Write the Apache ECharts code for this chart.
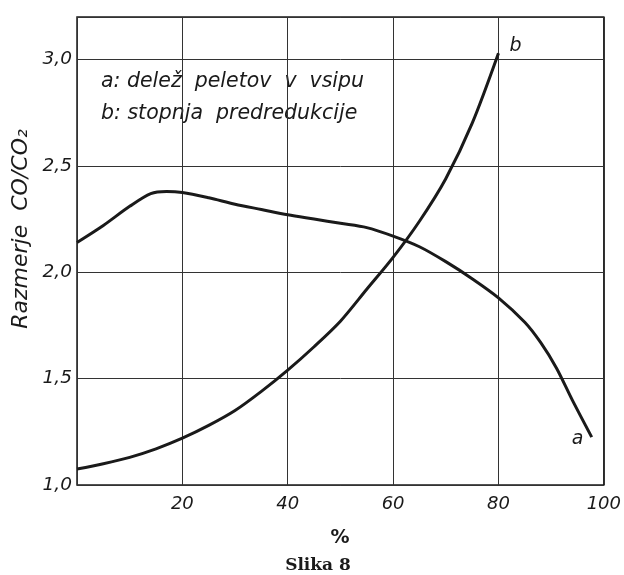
<!DOCTYPE html>
<html>
<head>
<meta charset="utf-8">
<script src="https://cdn.jsdelivr.net/npm/echarts@6/dist/echarts.min.js"></script>
<style>
  html, body { margin: 0; padding: 0; background: #fff; }
  #chart { width: 624px; height: 575px; }
</style>
</head>
<body>
<div id="chart"></div>
<script>
// Curve a: share of pellets in the burden (x %, CO/CO2 ratio)
const curveAX = [0, 5, 10, 14, 17, 20, 25, 30, 35, 40, 45, 50, 55, 60, 65, 70, 75, 80, 85, 88, 91, 94, 97.7];
const curveAY = [2.14, 2.22, 2.31, 2.37, 2.38, 2.375, 2.35, 2.32, 2.295, 2.27, 2.25, 2.23, 2.21, 2.17, 2.12, 2.05, 1.97, 1.88, 1.765, 1.67, 1.55, 1.40, 1.225];

// Curve b: degree of pre-reduction (x %, CO/CO2 ratio)
const curveBX = [0, 5, 10, 15, 20, 25, 30, 35, 40, 45, 50, 55, 60, 65, 70, 75, 80];
const curveBY = [1.075, 1.10, 1.13, 1.17, 1.22, 1.28, 1.35, 1.44, 1.54, 1.65, 1.77, 1.92, 2.07, 2.24, 2.44, 2.70, 3.03];

const legendLines = ['a: delež  peletov  v  vsipu', 'b: stopnja  predredukcije'];
const xLabel = '%';
const yLabel = 'Razmerje  CO/CO₂';
const caption = 'Slika 8';

const pairs = (xs, ys) => xs.map((x, i) => [x, ys[i]]);
const ink = '#1a1a1a';
const handFont = '"DejaVu Sans", sans-serif';

const chart = echarts.init(document.getElementById('chart'), null, { renderer: 'canvas' });

chart.setOption({
  backgroundColor: '#ffffff',
  animation: false,
  grid: {
    left: 77, right: 19, top: 17, bottom: 90,
    show: true, borderColor: ink, borderWidth: 1.5, backgroundColor: 'transparent'
  },
  xAxis: {
    type: 'value', min: 0, max: 100, interval: 20,
    axisLine: { show: false }, axisTick: { show: false },
    splitLine: { show: true, lineStyle: { color: '#333', width: 1 } },
    axisLabel: {
      color: ink, fontSize: 18, fontStyle: 'italic', fontFamily: handFont, margin: 10,
      formatter: v => (v === 0 ? '' : String(v))
    }
  },
  yAxis: {
    type: 'value', min: 1, max: 3.2, interval: 0.5,
    axisLine: { show: false }, axisTick: { show: false },
    splitLine: { show: true, lineStyle: { color: '#333', width: 1 } },
    axisLabel: {
      color: ink, fontSize: 18.5, fontStyle: 'italic', fontFamily: handFont, margin: 5,
      formatter: v => (Math.abs(v - 3.2) < 1e-6 ? '' : v.toFixed(1).replace('.', ','))
    }
  },
  graphic: [
    {
      type: 'text', x: 101, y: 82,
      style: {
        text: legendLines[0], fill: ink, verticalAlign: 'middle',
        font: 'italic 20.5px "DejaVu Sans", sans-serif'
      }
    },
    {
      type: 'text', x: 101, y: 114,
      style: {
        text: legendLines[1], fill: ink, verticalAlign: 'middle',
        font: 'italic 20.5px "DejaVu Sans", sans-serif'
      }
    },
    {
      type: 'text', x: 21, y: 229, rotation: Math.PI / 2,
      style: {
        text: yLabel, fill: ink, align: 'center', verticalAlign: 'middle',
        font: 'italic 22px "DejaVu Sans", sans-serif'
      }
    },
    {
      type: 'text', x: 340, y: 538,
      style: {
        text: xLabel, fill: ink, align: 'center', verticalAlign: 'middle',
        font: 'bold 19px "DejaVu Sans", sans-serif'
      }
    },
    {
      type: 'text', x: 318, y: 566,
      style: {
        text: caption, fill: ink, align: 'center', verticalAlign: 'middle',
        font: 'bold 17px "DejaVu Serif", serif'
      }
    }
  ],
  series: [
    {
      name: 'a', type: 'line', data: pairs(curveAX, curveAY),
      smooth: 0.3, symbol: 'none',
      lineStyle: { color: ink, width: 3 },
      endLabel: {
        show: true, formatter: 'a', color: ink, fontSize: 19, fontStyle: 'italic',
        fontFamily: handFont, offset: [-28, 2]
      }
    },
    {
      name: 'b', type: 'line', data: pairs(curveBX, curveBY),
      smooth: 0.3, symbol: 'none',
      lineStyle: { color: ink, width: 3 },
      endLabel: {
        show: true, formatter: 'b', color: ink, fontSize: 19, fontStyle: 'italic',
        fontFamily: handFont, offset: [3, -7]
      }
    }
  ]
});
</script>
</body>
</html>
